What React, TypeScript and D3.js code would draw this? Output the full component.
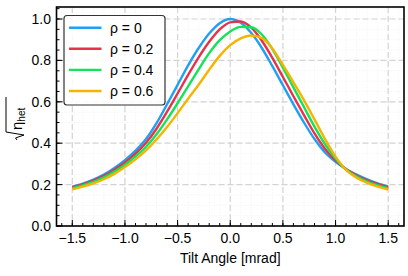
import * as d3 from 'd3';

// tilt angle samples [mrad]
const angles = [
  -1.5, -1.4, -1.3, -1.2, -1.1, -1.0, -0.9, -0.8, -0.7, -0.6, -0.5, -0.4, -0.3, -0.2, -0.1,
  0.0, 0.1, 0.2, 0.3, 0.4, 0.5, 0.6, 0.7, 0.8, 0.9, 1.0, 1.1, 1.2, 1.3, 1.4, 1.5,
];

const rho0 = [
  0.190, 0.205, 0.224, 0.248, 0.280, 0.318, 0.364, 0.420, 0.497, 0.588, 0.682, 0.776, 0.860, 0.930, 0.980,
  1.000, 0.982, 0.932, 0.860, 0.772, 0.680, 0.588, 0.500, 0.420, 0.355, 0.310, 0.275, 0.248, 0.225, 0.206, 0.191,
];
const rho02 = [
  0.187, 0.201, 0.219, 0.242, 0.272, 0.307, 0.350, 0.402, 0.470, 0.552, 0.640, 0.730, 0.815, 0.890, 0.950,
  0.984, 0.988, 0.958, 0.895, 0.812, 0.720, 0.627, 0.536, 0.447, 0.372, 0.318, 0.274, 0.244, 0.220, 0.202, 0.187,
];
const rho04 = [
  0.182, 0.196, 0.213, 0.235, 0.263, 0.296, 0.336, 0.383, 0.443, 0.515, 0.593, 0.675, 0.757, 0.835, 0.898,
  0.940, 0.962, 0.960, 0.925, 0.855, 0.765, 0.670, 0.575, 0.480, 0.395, 0.326, 0.272, 0.239, 0.214, 0.196, 0.182,
];
const rho06 = [
  0.177, 0.190, 0.206, 0.226, 0.252, 0.285, 0.322, 0.365, 0.418, 0.478, 0.545, 0.615, 0.682, 0.755, 0.822,
  0.874, 0.906, 0.920, 0.908, 0.858, 0.778, 0.694, 0.608, 0.515, 0.420, 0.335, 0.271, 0.233, 0.208, 0.190, 0.176,
];

const seriesNames = ['ρ = 0', 'ρ = 0.2', 'ρ = 0.4', 'ρ = 0.6'];
const seriesValues = [rho0, rho02, rho04, rho06];
const colors = ['#1fa0f2', '#e8314a', '#14e35a', '#f5b400'];

const xTicks = [-1.5, -1.0, -0.5, 0.0, 0.5, 1.0, 1.5];
const yTicks = [0.0, 0.2, 0.4, 0.6, 0.8, 1.0];

const W = 408;
const H = 276;
const m = { left: 56.5, right: 404, top: 7, bottom: 226 };
const font = '"Liberation Sans", Arial, sans-serif';

const fmt = (v: number) => (v < 0 ? '\u2212' : '') + Math.abs(v).toFixed(1);

export default function App() {
  const x = d3.scaleLinear().domain([-1.65, 1.65]).range([m.left, m.right]);
  const y = d3.scaleLinear().domain([0, 1.058]).range([m.bottom, m.top]);

  const xMinor = d3.range(-16, 17).map((i) => i / 10).filter((v) => v >= -1.65 && v <= 1.65);
  const yMinor = d3.range(0, 22).map((i) => i * 0.05).filter((v) => v <= 1.058);

  const line = d3
    .line<number>()
    .x((_, i) => x(angles[i]))
    .y((d) => y(d))
    .curve(d3.curveMonotoneX);

  return (
    <svg width={W} height={H} style={{ position: 'absolute', left: 0, top: 0, background: '#fff' }} fontFamily={font}>
      {/* minor grid */}
      <g stroke="#ececec" strokeWidth={0.6} strokeDasharray="1,1.5">
        {xMinor.map((v) => (
          <line key={'xm' + v} x1={x(v)} x2={x(v)} y1={m.top} y2={m.bottom} />
        ))}
        {yMinor.map((v) => (
          <line key={'ym' + v} x1={m.left} x2={m.right} y1={y(v)} y2={y(v)} />
        ))}
      </g>
      {/* major grid */}
      <g stroke="#d4d4d4" strokeWidth={1.2} strokeDasharray="6,3">
        {xTicks.map((v) => (
          <line key={'xg' + v} x1={x(v)} x2={x(v)} y1={m.top} y2={m.bottom} />
        ))}
        {yTicks.map((v) => (
          <line key={'yg' + v} x1={m.left} x2={m.right} y1={y(v)} y2={y(v)} />
        ))}
      </g>

      {seriesValues.map((s, i) => (
        <path key={seriesNames[i]} d={line(s) || ''} fill="none" stroke={colors[i]} strokeWidth={2.4} />
      ))}

      {/* ticks */}
      <g stroke="#000" strokeWidth={1}>
        {xMinor.map((v) => (
          <line key={'xt' + v} x1={x(v)} x2={x(v)} y1={m.bottom} y2={m.bottom - 3} />
        ))}
        {xTicks.map((v) => (
          <line key={'xT' + v} x1={x(v)} x2={x(v)} y1={m.bottom} y2={m.bottom - 6} />
        ))}
        {yMinor.map((v) => (
          <line key={'yt' + v} x1={m.left} x2={m.left + 3} y1={y(v)} y2={y(v)} />
        ))}
        {yTicks.map((v) => (
          <line key={'yT' + v} x1={m.left} x2={m.left + 6} y1={y(v)} y2={y(v)} />
        ))}
      </g>
      <rect x={m.left} y={m.top} width={m.right - m.left} height={m.bottom - m.top} fill="none" stroke="#000" strokeWidth={1.6} />

      <g fontSize={14} fill="#000">
        {xTicks.map((v) => (
          <text key={'xl' + v} x={x(v)} y={243} textAnchor="middle">
            {fmt(v)}
          </text>
        ))}
        {yTicks.map((v) => (
          <text key={'yl' + v} x={51} y={y(v)} dy="0.36em" textAnchor="end">
            {v.toFixed(1)}
          </text>
        ))}
        <text x={(m.left + m.right) / 2} y={263} textAnchor="middle">
          Tilt Angle [mrad]
        </text>
      </g>

      {/* y label: sqrt(eta_het) */}
      <g transform="translate(22,117) rotate(-90)">
        <path d="M-23,-5 L-21,-6.5 L-18,2 L-15,-16 L20,-16" fill="none" stroke="#000" strokeWidth={1} />
        <text x={-13} y={0} fontSize={15}>
          η
          <tspan fontSize={10} dy={3}>het</tspan>
        </text>
      </g>

      {/* legend */}
      <rect x={64} y={15.5} width={101} height={89.5} rx={3} fill="#fff" fillOpacity={0.85} stroke="#333" strokeWidth={1.2} />
      {seriesNames.map((n, i) => {
        const ly = 27.7 + i * 21.1;
        return (
          <g key={'lg' + n}>
            <line x1={69} x2={101.5} y1={ly} y2={ly} stroke={colors[i]} strokeWidth={2.4} />
            <text x={110} y={ly} dy="0.36em" fontSize={14}>
              {n}
            </text>
          </g>
        );
      })}
    </svg>
  );
}
